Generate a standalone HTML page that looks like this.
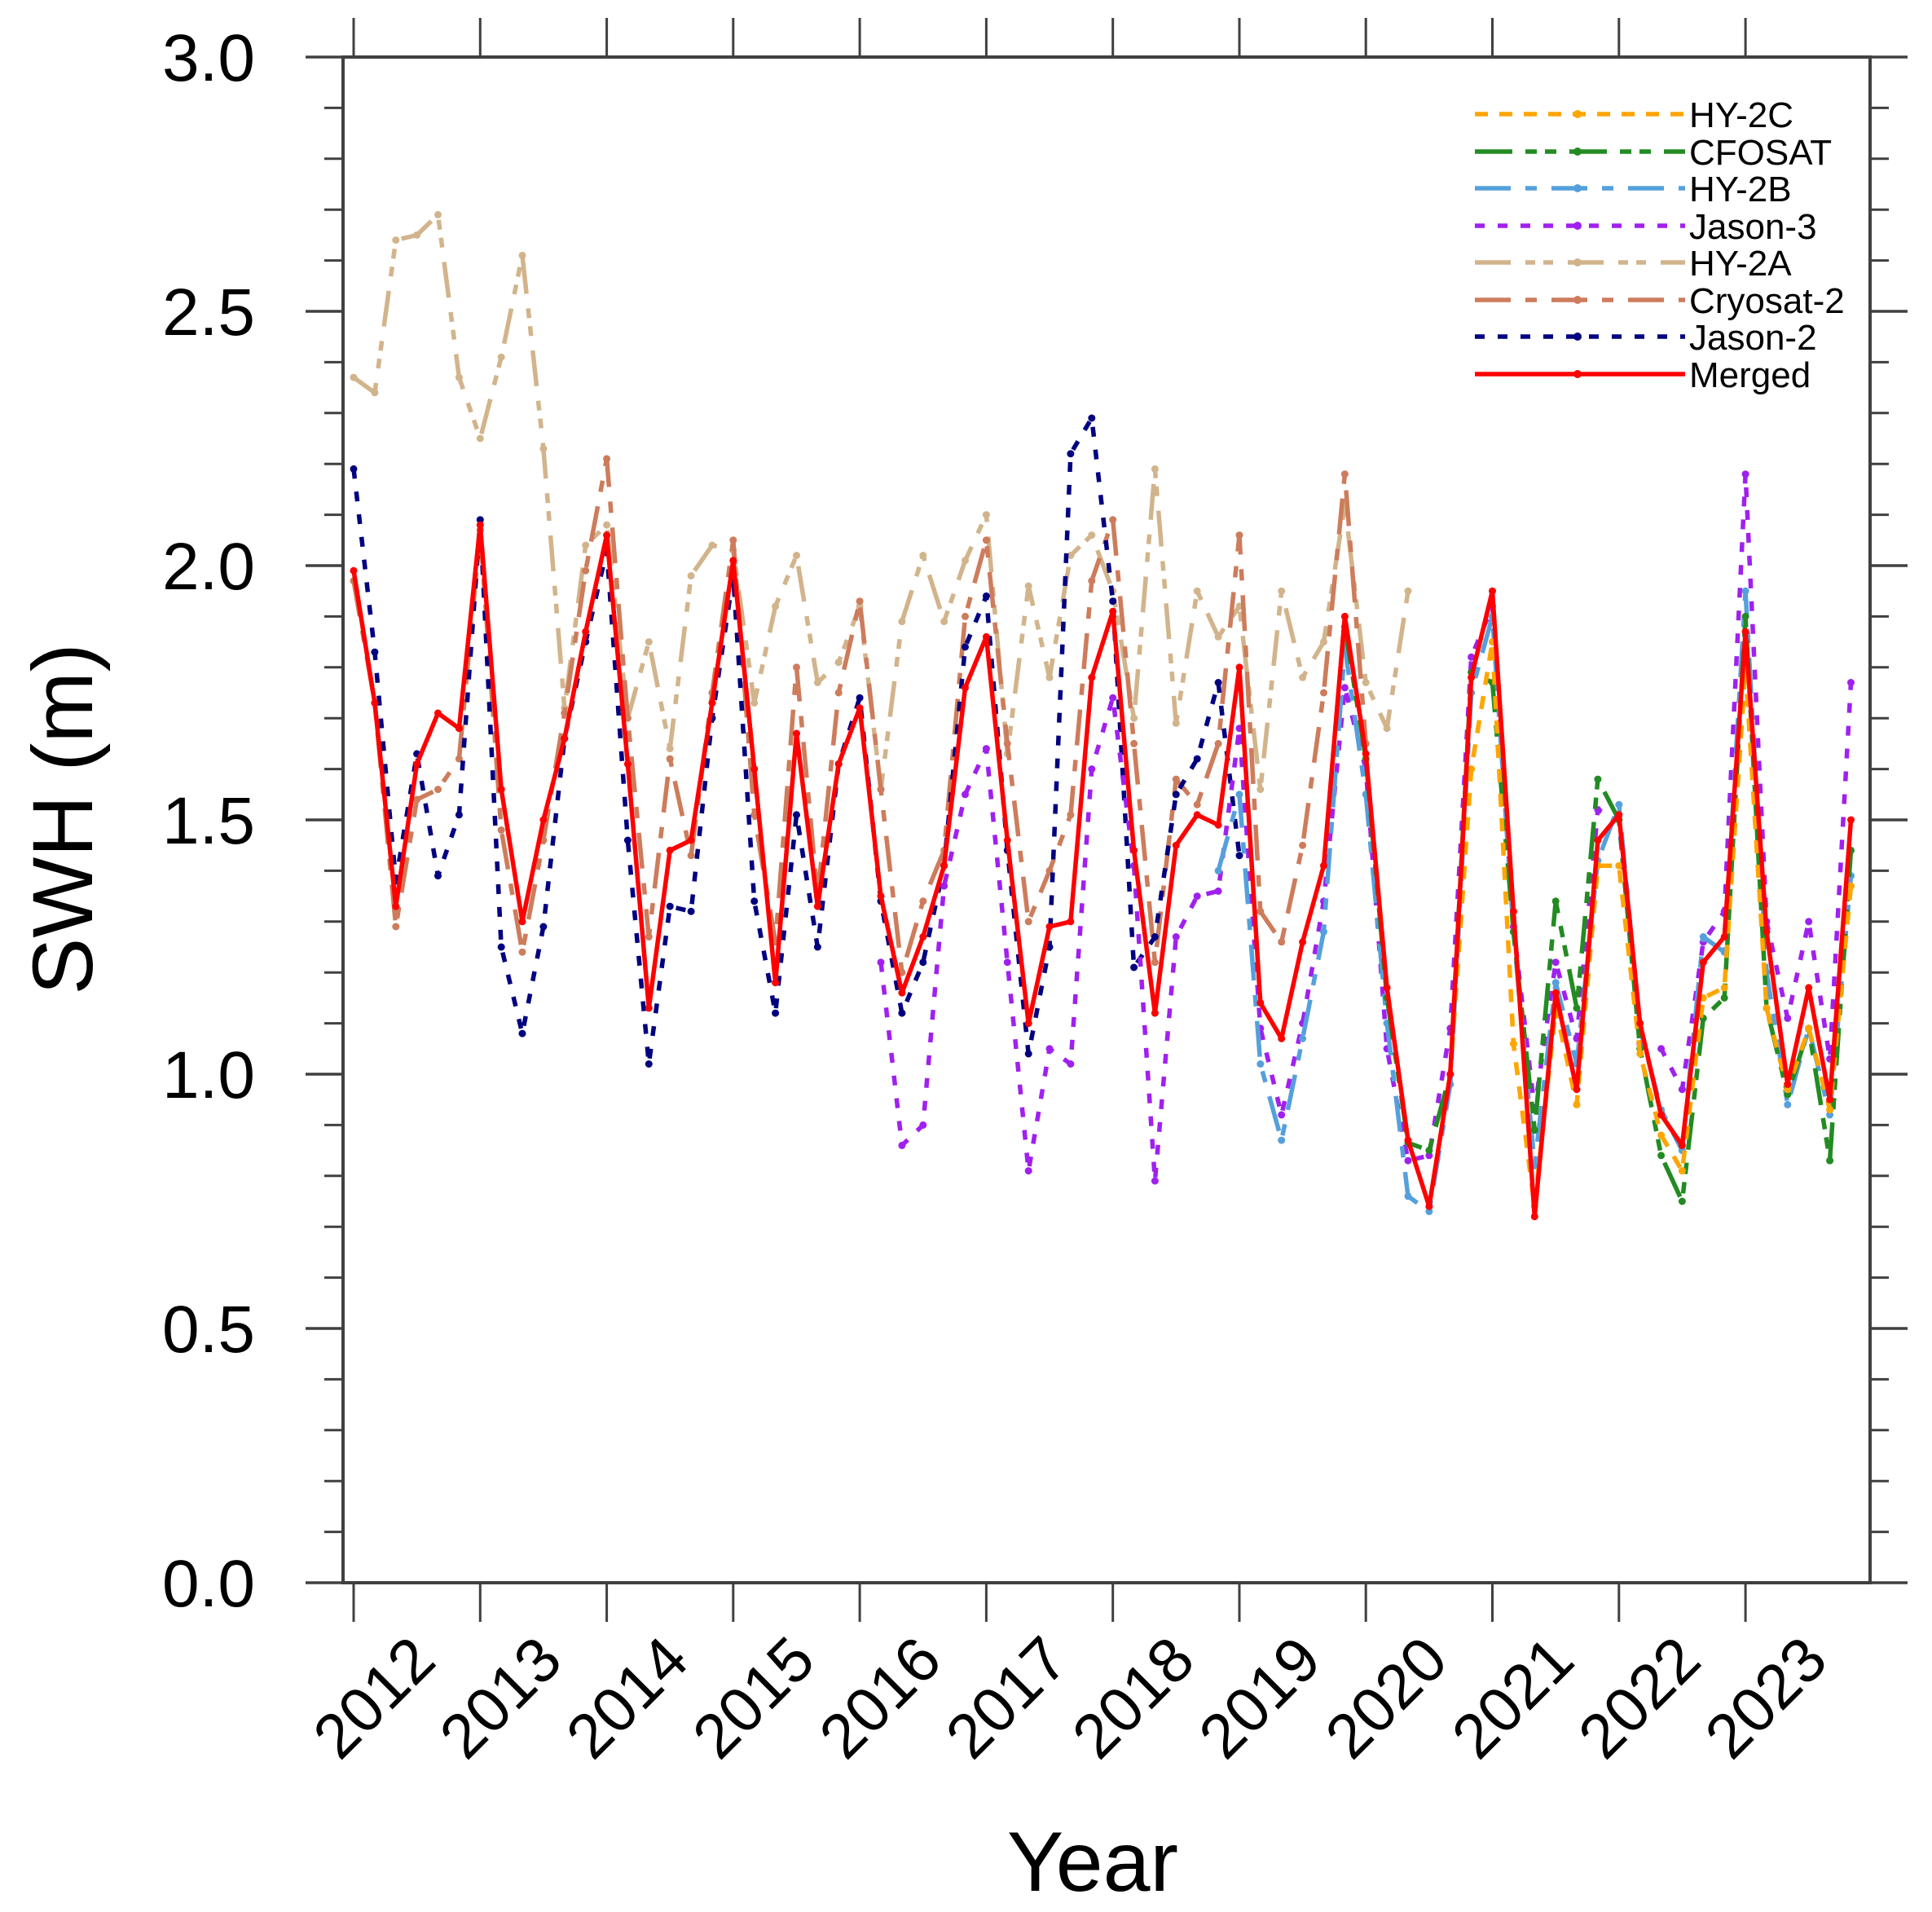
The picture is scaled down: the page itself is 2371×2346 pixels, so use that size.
<!DOCTYPE html>
<html><head><meta charset="utf-8"><style>
html,body{margin:0;padding:0;background:#fff;}
svg{display:block;}
text{font-family:"Liberation Sans",Arial,Helvetica,sans-serif;fill:#000;}
</style></head><body>
<svg width="2371" height="2346" viewBox="0 0 2371 2346" xmlns="http://www.w3.org/2000/svg">
<defs>
<marker id="mO" viewBox="0 0 10 10" refX="5" refY="5" markerWidth="10" markerHeight="10" markerUnits="userSpaceOnUse"><circle cx="5" cy="5" r="4.5" fill="#FFA500"/></marker>
<marker id="mG" viewBox="0 0 10 10" refX="5" refY="5" markerWidth="10" markerHeight="10" markerUnits="userSpaceOnUse"><circle cx="5" cy="5" r="4.5" fill="#228B22"/></marker>
<marker id="mB" viewBox="0 0 10 10" refX="5" refY="5" markerWidth="10" markerHeight="10" markerUnits="userSpaceOnUse"><circle cx="5" cy="5" r="4.5" fill="#55A0DC"/></marker>
<marker id="mP" viewBox="0 0 10 10" refX="5" refY="5" markerWidth="10" markerHeight="10" markerUnits="userSpaceOnUse"><circle cx="5" cy="5" r="4.5" fill="#A020F0"/></marker>
<marker id="mT" viewBox="0 0 10 10" refX="5" refY="5" markerWidth="10" markerHeight="10" markerUnits="userSpaceOnUse"><circle cx="5" cy="5" r="4.5" fill="#D2B48C"/></marker>
<marker id="mC" viewBox="0 0 10 10" refX="5" refY="5" markerWidth="10" markerHeight="10" markerUnits="userSpaceOnUse"><circle cx="5" cy="5" r="4.5" fill="#CD7C5C"/></marker>
<marker id="mN" viewBox="0 0 10 10" refX="5" refY="5" markerWidth="10" markerHeight="10" markerUnits="userSpaceOnUse"><circle cx="5" cy="5" r="4.5" fill="#000080"/></marker>
<marker id="mR" viewBox="0 0 10 10" refX="5" refY="5" markerWidth="10" markerHeight="10" markerUnits="userSpaceOnUse"><circle cx="5" cy="5" r="4.5" fill="#FF0000"/></marker>
</defs>

<!-- Series -->
<g fill="none" stroke-width="5.5" stroke-linejoin="round">
<!-- HY-2A -->
<polyline stroke="#D2B48C" stroke-dasharray="44 18 12 10 12 18" marker-start="url(#mT)" marker-mid="url(#mT)" marker-end="url(#mT)" points="434,463.1 459.9,481.8 485.8,294.6 511.6,288.4 537.5,263.4 563.4,463.1 589.3,538 615.2,438.2 641,313.4 666.9,550.5 692.8,868.7 718.7,669 744.6,644.1 770.4,881.2 796.3,787.6 822.2,918.6 848.1,706.5 874,669 899.8,675.3 925.7,862.5 951.6,743.9 977.5,681.5 1003.4,837.5 1029.2,812.6 1055.1,743.9 1081,968.6 1106.9,762.6 1132.8,681.5 1158.6,762.6 1184.5,687.8 1210.4,631.6 1236.3,924.9 1262.2,719 1288,831.3 1313.9,681.5 1339.8,656.6 1365.7,725.2 1391.6,881.2 1417.4,575.4 1443.3,887.4 1469.2,725.2 1495.1,781.4 1521,743.9 1546.8,968.6 1572.7,725.2 1598.6,831.3 1624.5,787.6 1650.4,619.1 1676.2,837.5 1702.1,893.7 1728,725.2"/>
<!-- Cryosat-2 -->
<polyline stroke="#CD7C5C" stroke-dasharray="44 18 14 18" marker-start="url(#mC)" marker-mid="url(#mC)" marker-end="url(#mC)" points="434,712.7 459.9,862.5 485.8,1137 511.6,981 537.5,968.6 563.4,931.1 589.3,650.3 615.2,1018.5 641,1168.2 666.9,1031 692.8,875 718.7,700.2 744.6,562.9 770.4,881.2 796.3,1149.5 822.2,931.1 848.1,1049.7 874,850 899.8,662.8 925.7,999.8 951.6,1155.8 977.5,818.8 1003.4,1099.6 1029.2,850 1055.1,737.7 1081,968.6 1106.9,1193.2 1132.8,1105.8 1158.6,1043.4 1184.5,756.4 1210.4,662.8 1236.3,912.4 1262.2,1130.8 1288,1068.4 1313.9,999.8 1339.8,712.7 1365.7,637.8 1391.6,912.4 1417.4,1180.7 1443.3,956.1 1469.2,987.3 1495.1,912.4 1521,656.6 1546.8,1118.3 1572.7,1155.8 1598.6,1037.2 1624.5,850 1650.4,581.7 1676.2,912.4"/>
<!-- Jason-2 -->
<polyline stroke="#000080" stroke-dasharray="12 16" marker-start="url(#mN)" marker-mid="url(#mN)" marker-end="url(#mN)" points="434,575.4 459.9,800.1 485.8,1080.9 511.6,924.9 537.5,1074.6 563.4,999.8 589.3,637.8 615.2,1162 641,1268.1 666.9,1137 692.8,906.2 718.7,787.6 744.6,675.3 770.4,1031 796.3,1305.5 822.2,1112.1 848.1,1118.3 874,881.2 899.8,706.5 925.7,1105.8 951.6,1243.1 977.5,999.8 1003.4,1162 1029.2,937.4 1055.1,856.2 1081,1105.8 1106.9,1243.1 1132.8,1180.7 1158.6,1062.2 1184.5,793.8 1210.4,731.4 1236.3,1043.4 1262.2,1293 1288,1162 1313.9,556.7 1339.8,513 1365.7,737.7 1391.6,1187 1417.4,1149.5 1443.3,974.8 1469.2,931.1 1495.1,837.5 1521,1049.7"/>
<!-- Jason-3 -->
<polyline stroke="#A020F0" stroke-dasharray="12 16" marker-start="url(#mP)" marker-mid="url(#mP)" marker-end="url(#mP)" points="1081,1180.7 1106.9,1405.4 1132.8,1380.4 1158.6,1087.1 1184.5,974.8 1210.4,918.6 1236.3,1180.7 1262.2,1436.6 1288,1286.8 1313.9,1305.5 1339.8,943.6 1365.7,856.2 1391.6,1062.2 1417.4,1449 1443.3,1149.5 1469.2,1099.6 1495.1,1093.4 1521,893.7 1546.8,1261.8 1572.7,1367.9 1598.6,1255.6 1624.5,1105.8 1650.4,843.8 1676.2,943.6 1702.1,1286.8 1728,1424.1 1753.9,1417.8 1779.8,1261.8 1805.6,806.3 1831.5,743.9 1857.4,1137 1883.3,1361.7 1909.2,1180.7 1935,1274.3 1960.9,993.5 1986.8,1006 2012.7,1280.6 2038.6,1286.8 2064.4,1336.7 2090.3,1155.8 2116.2,1118.3 2142.1,581.7 2168,1130.8 2193.8,1249.4 2219.7,1130.8 2245.6,1299.3 2271.5,837.5"/>
<!-- HY-2B -->
<polyline stroke="#55A0DC" stroke-dasharray="44 18 14 18" marker-start="url(#mB)" marker-mid="url(#mB)" marker-end="url(#mB)" points="1495.1,1068.4 1521,974.8 1546.8,1305.5 1572.7,1399.1 1598.6,1274.3 1624.5,1143.3 1650.4,793.8 1676.2,974.8 1702.1,1255.6 1728,1467.8 1753.9,1486.5 1779.8,1330.5 1805.6,850 1831.5,756.4 1857.4,1143.3 1883.3,1430.3 1909.2,1205.7 1935,1305.5 1960.9,1055.9 1986.8,987.3 2012.7,1261.8 2038.6,1361.7 2064.4,1411.6 2090.3,1149.5 2116.2,1168.2 2142.1,725.2 2168,1193.2 2193.8,1355.4 2219.7,1261.8 2245.6,1367.9 2271.5,1074.6"/>
<!-- CFOSAT -->
<polyline stroke="#228B22" stroke-dasharray="46 16 14 10 14 16" marker-start="url(#mG)" marker-mid="url(#mG)" marker-end="url(#mG)" points="1650.4,768.9 1676.2,931.1 1702.1,1224.4 1728,1402.2 1753.9,1411.6 1779.8,1318 1805.6,825 1831.5,837.5 1857.4,1143.3 1883.3,1386.6 1909.2,1105.8 1935,1236.9 1960.9,956.1 1986.8,1006 2012.7,1286.8 2038.6,1417.8 2064.4,1474 2090.3,1249.4 2116.2,1224.4 2142.1,756.4 2168,1236.9 2193.8,1343 2219.7,1261.8 2245.6,1424.1 2271.5,1043.4"/>
<!-- HY-2C -->
<polyline stroke="#FFA500" stroke-dasharray="16 14" marker-start="url(#mO)" marker-mid="url(#mO)" marker-end="url(#mO)" points="1779.8,1318 1805.6,943.6 1831.5,787.6 1857.4,1280.6 1883.3,1480.2 1909.2,1236.9 1935,1355.4 1960.9,1062.2 1986.8,1062.2 2012.7,1293 2038.6,1392.9 2064.4,1436.6 2090.3,1224.4 2116.2,1211.9 2142.1,818.8 2168,1236.9 2193.8,1336.7 2219.7,1261.8 2245.6,1361.7 2271.5,1087.1"/>
<!-- Merged -->
<polyline stroke="#FF0000" marker-start="url(#mR)" marker-mid="url(#mR)" marker-end="url(#mR)" points="434,700.2 459.9,862.5 485.8,1112.1 511.6,937.4 537.5,875 563.4,893.7 589.3,644.1 615.2,968.6 641,1130.8 666.9,1006 692.8,906.2 718.7,775.1 744.6,656.6 770.4,937.4 796.3,1236.9 822.2,1043.4 848.1,1031 874,862.5 899.8,687.8 925.7,943.6 951.6,1205.7 977.5,900 1003.4,1112.1 1029.2,937.4 1055.1,868.7 1081,1099.6 1106.9,1218.2 1132.8,1149.5 1158.6,1062.2 1184.5,843.8 1210.4,781.4 1236.3,1031 1262.2,1255.6 1288,1137 1313.9,1130.8 1339.8,831.3 1365.7,750.2 1391.6,1043.4 1417.4,1243.1 1443.3,1037.2 1469.2,999.8 1495.1,1012.2 1521,818.8 1546.8,1230.6 1572.7,1274.3 1598.6,1155.8 1624.5,1062.2 1650.4,756.4 1676.2,924.9 1702.1,1211.9 1728,1399.1 1753.9,1480.2 1779.8,1318 1805.6,831.3 1831.5,725.2 1857.4,1118.3 1883.3,1492.7 1909.2,1218.2 1935,1336.7 1960.9,1031 1986.8,999.8 2012.7,1255.6 2038.6,1367.9 2064.4,1405.4 2090.3,1180.7 2116.2,1149.5 2142.1,775.1 2168,1143.3 2193.8,1330.5 2219.7,1211.9 2245.6,1349.2 2271.5,1006"/>
</g>

<!-- Frame -->
<g stroke="#404040" fill="none">
<rect x="421" y="70" width="1874" height="1872" stroke-width="4"/>
<path stroke-width="3.5" d="M375,70H421M375,382H421M375,694H421M375,1006H421M375,1318H421M375,1630H421M375,1942H421"/>
<path stroke-width="3.5" d="M2295,70H2341M2295,382H2341M2295,694H2341M2295,1006H2341M2295,1318H2341M2295,1630H2341M2295,1942H2341"/>
<path stroke-width="3" d="M398,132.4H421M398,194.8H421M398,257.2H421M398,319.6H421M398,444.4H421M398,506.8H421M398,569.2H421M398,631.6H421M398,756.4H421M398,818.8H421M398,881.2H421M398,943.6H421M398,1068.4H421M398,1130.8H421M398,1193.2H421M398,1255.6H421M398,1380.4H421M398,1442.8H421M398,1505.2H421M398,1567.6H421M398,1692.4H421M398,1754.8H421M398,1817.2H421M398,1879.6H421"/>
<path stroke-width="3" d="M2295,132.4H2318M2295,194.8H2318M2295,257.2H2318M2295,319.6H2318M2295,444.4H2318M2295,506.8H2318M2295,569.2H2318M2295,631.6H2318M2295,756.4H2318M2295,818.8H2318M2295,881.2H2318M2295,943.6H2318M2295,1068.4H2318M2295,1130.8H2318M2295,1193.2H2318M2295,1255.6H2318M2295,1380.4H2318M2295,1442.8H2318M2295,1505.2H2318M2295,1567.6H2318M2295,1692.4H2318M2295,1754.8H2318M2295,1817.2H2318M2295,1879.6H2318"/>
<path stroke-width="3" d="M434,22V70M589.3,22V70M744.6,22V70M899.8,22V70M1055.1,22V70M1210.4,22V70M1365.7,22V70M1521,22V70M1676.2,22V70M1831.5,22V70M1986.8,22V70M2142.1,22V70"/>
<path stroke-width="3" d="M434,1942V1990M589.3,1942V1990M744.6,1942V1990M899.8,1942V1990M1055.1,1942V1990M1210.4,1942V1990M1365.7,1942V1990M1521,1942V1990M1676.2,1942V1990M1831.5,1942V1990M1986.8,1942V1990M2142.1,1942V1990"/>
</g>

<!-- Y tick labels -->
<g font-size="82" text-anchor="end">
<text x="313" y="99">3.0</text>
<text x="313" y="411">2.5</text>
<text x="313" y="723">2.0</text>
<text x="313" y="1035">1.5</text>
<text x="313" y="1347">1.0</text>
<text x="313" y="1659">0.5</text>
<text x="313" y="1971">0.0</text>
</g>

<!-- X tick labels (rotated) -->
<g font-size="77" text-anchor="middle">
<text transform="translate(458,2082) rotate(-45)" y="27.6">2012</text>
<text transform="translate(613.3,2082) rotate(-45)" y="27.6">2013</text>
<text transform="translate(768.6,2082) rotate(-45)" y="27.6">2014</text>
<text transform="translate(923.8,2082) rotate(-45)" y="27.6">2015</text>
<text transform="translate(1079.1,2082) rotate(-45)" y="27.6">2016</text>
<text transform="translate(1234.4,2082) rotate(-45)" y="27.6">2017</text>
<text transform="translate(1389.7,2082) rotate(-45)" y="27.6">2018</text>
<text transform="translate(1545,2082) rotate(-45)" y="27.6">2019</text>
<text transform="translate(1700.2,2082) rotate(-45)" y="27.6">2020</text>
<text transform="translate(1855.5,2082) rotate(-45)" y="27.6">2021</text>
<text transform="translate(2010.8,2082) rotate(-45)" y="27.6">2022</text>
<text transform="translate(2166.1,2082) rotate(-45)" y="27.6">2023</text>
</g>

<!-- Axis titles -->
<text font-size="104" text-anchor="middle" x="1341" y="2320">Year</text>
<text font-size="105" text-anchor="middle" transform="translate(113,1005) rotate(-90)">SWH (m)</text>

<!-- Legend -->
<g fill="none" stroke-width="5.5">
<line x1="1810" y1="140" x2="2068" y2="140" stroke="#FFA500" stroke-dasharray="16 14"/>
<line x1="1810" y1="186" x2="2068" y2="186" stroke="#228B22" stroke-dasharray="46 16 14 10 14 16"/>
<line x1="1810" y1="231" x2="2068" y2="231" stroke="#55A0DC" stroke-dasharray="44 18 14 18"/>
<line x1="1810" y1="277" x2="2068" y2="277" stroke="#A020F0" stroke-dasharray="12 16"/>
<line x1="1810" y1="322" x2="2068" y2="322" stroke="#D2B48C" stroke-dasharray="44 18 12 10 12 18"/>
<line x1="1810" y1="368" x2="2068" y2="368" stroke="#CD7C5C" stroke-dasharray="44 18 14 18"/>
<line x1="1810" y1="413" x2="2068" y2="413" stroke="#000080" stroke-dasharray="12 16"/>
<line x1="1810" y1="459" x2="2068" y2="459" stroke="#FF0000"/>
</g>
<g>
<circle cx="1936" cy="140" r="5" fill="#FFA500"/>
<circle cx="1936" cy="186" r="5" fill="#228B22"/>
<circle cx="1936" cy="231" r="5" fill="#55A0DC"/>
<circle cx="1936" cy="277" r="5" fill="#A020F0"/>
<circle cx="1936" cy="322" r="5" fill="#D2B48C"/>
<circle cx="1936" cy="368" r="5" fill="#CD7C5C"/>
<circle cx="1936" cy="413" r="5" fill="#000080"/>
<circle cx="1936" cy="459" r="5" fill="#FF0000"/>
</g>
<g font-size="44">
<text x="2073" y="156">HY-2C</text>
<text x="2073" y="202">CFOSAT</text>
<text x="2073" y="247">HY-2B</text>
<text x="2073" y="293">Jason-3</text>
<text x="2073" y="338">HY-2A</text>
<text x="2073" y="384">Cryosat-2</text>
<text x="2073" y="429">Jason-2</text>
<text x="2073" y="475">Merged</text>
</g>
</svg>
</body></html>
